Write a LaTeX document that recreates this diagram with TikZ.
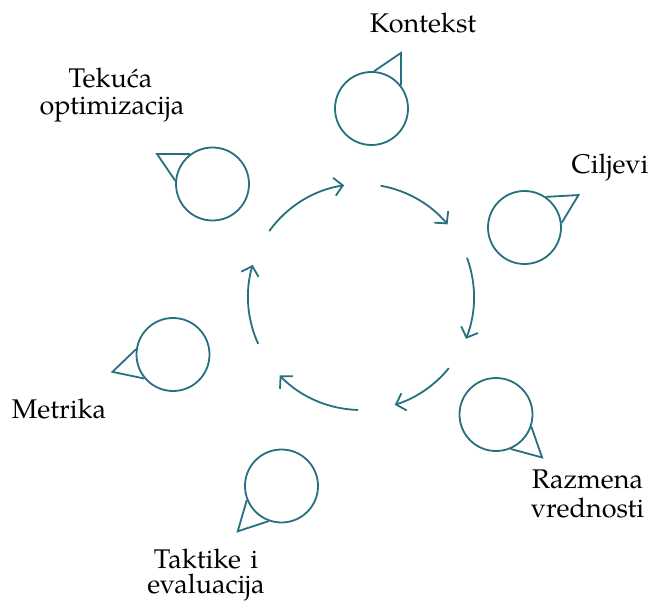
\documentclass[tikz,border=0pt]{standalone}
\usepackage{fontspec}
\setmainfont{texgyrepagella}[Extension=.otf, UprightFont=*-regular]
\usetikzlibrary{arrows.meta}
\definecolor{teal1}{RGB}{38,112,128}
\begin{document}
\begin{tikzpicture}[x=1pt,y=1pt,
  bubble/.style={circle, draw=teal1, line width=1.8pt, minimum size=73pt, inner sep=0pt},
  tail/.style={draw=teal1, line width=1.8pt, line join=miter},
  cyc/.style={draw=teal1, line width=1.8pt, -{Straight Barb[length=8.5pt,width=18pt,line width=1.8pt]}},
  lbl/.style={anchor=base, inner sep=0pt, font=\fontsize{27}{29}\selectfont}]
\useasboundingbox (0,0) rectangle (656,606);
\fill[white] (0,0) rectangle (656,606);
\coordinate (ctr) at (361,309);
% bubbles
\node[bubble] (k) at (371.5,497.5) {};
\node[bubble] (c) at (524.5,378.5) {};
\node[bubble] (r) at (496,191.5) {};
\node[bubble] (t) at (281.5,120) {};
\node[bubble] (m) at (173,251.5) {};
\node[bubble] (o) at (212.5,422) {};
% tails
\coordinate (kt) at ([shift={(62:63)}]k.center);
\coordinate (ct) at ([shift={(31:63)}]c.center);
\coordinate (rt) at ([shift={(-43:63)}]r.center);
\coordinate (tt) at ([shift={(226:63)}]t.center);
\coordinate (mt) at ([shift={(196:63)}]m.center);
\coordinate (ot) at ([shift={(151.6:63)}]o.center);
\draw[tail] (k.86) -- (kt) -- (k.38);
\draw[tail] (c.55) -- (ct) -- (c.7);
\draw[tail] (r.-19) -- (rt) -- (r.-67);
\draw[tail] (t.250) -- (tt) -- (t.202);
\draw[tail] (m.220) -- (mt) -- (m.172);
\draw[tail] (o.175.6) -- (ot) -- (o.127.6);
% cycle arrows
\draw[cyc] ([shift={(144.3:113)}]ctr) arc[start angle=144.3, end angle=98.6, radius=113];
\draw[cyc] ([shift={(80:113)}]ctr) arc[start angle=80, end angle=40, radius=113];
\draw[cyc] ([shift={(20.3:113)}]ctr) arc[start angle=20.3, end angle=-21.7, radius=113];
\draw[cyc] ([shift={(-39:113)}]ctr) arc[start angle=-39, end angle=-72.6, radius=113];
\draw[cyc] ([shift={(-91.5:113)}]ctr) arc[start angle=-91.5, end angle=-136, radius=113];
\draw[cyc] ([shift={(-155.5:113)}]ctr) arc[start angle=-155.5, end angle=-196.5, radius=113];
% labels
\node[lbl] (lk) at (423,573) {Kontekst};
\node[lbl] (lc) at (610,432) {Ciljevi};
\node[lbl] (lr1) at (587.5,118) {Razmena};
\node[lbl] (lr2) at (587.5,89) {vrednosti};
\node[lbl] (lt1) at (206,38) {Taktike\hspace{0.1em} i};
\node[lbl] (lt2) at (206,13) {evaluacija};
\node[lbl] (lm) at (59,188) {Metrika};
\node[lbl] (lo1) at (110.5,518) {Tekuća};
\node[lbl] (lo2) at (112,491) {optimizacija};
\end{tikzpicture}
\end{document}
